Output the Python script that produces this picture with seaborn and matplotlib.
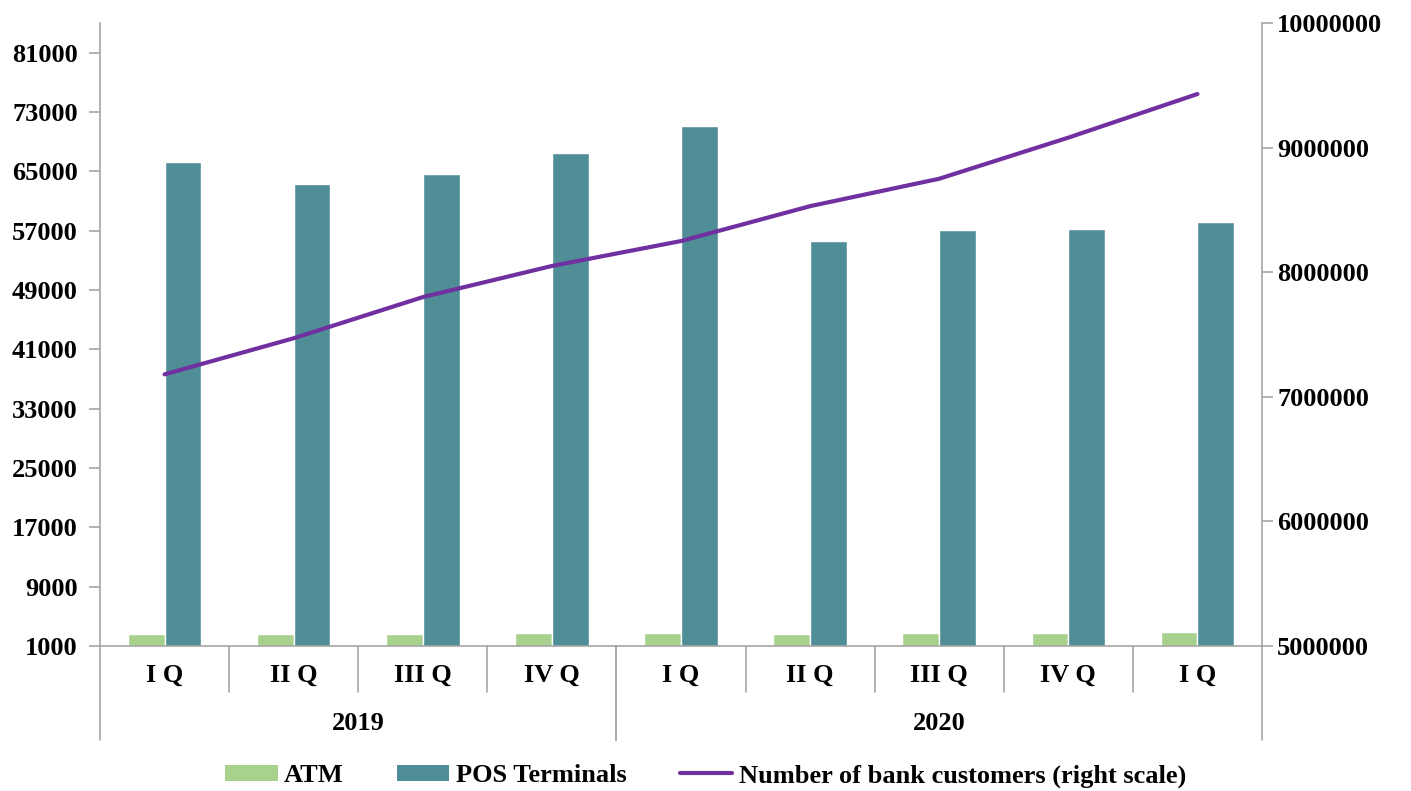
import matplotlib
matplotlib.use("Agg")
import matplotlib.pyplot as plt
from matplotlib.lines import Line2D
from matplotlib.patches import Patch
import seaborn as sns
import pandas as pd
import numpy as np

quarters = ["I Q", "II Q", "III Q", "IV Q", "I Q", "II Q", "III Q", "IV Q", "I Q"]
years = ["2019", "2020"]
year_spans = [(0, 4), (4, 9)]
atm = [2660, 2680, 2680, 2750, 2790, 2660, 2790, 2790, 2890]
pos = [66300, 63300, 64700, 67500, 71100, 55600, 57100, 57200, 58200]
customers = [7180000, 7470000, 7800000, 8050000, 8250000, 8530000, 8750000, 9080000, 9430000]

ATM_COLOR = "#A9D18E"
POS_COLOR = "#4F8E97"
LINE_COLOR = "#7030A0"
GRID_GRAY = "#A6A6A6"

sns.set_style("white")
plt.rcParams["font.family"] = ["Liberation Serif", "DejaVu Serif"]
plt.rcParams["font.weight"] = "bold"
plt.rcParams["text.color"] = "black"
plt.rcParams["xtick.labelcolor"] = "black"
plt.rcParams["ytick.labelcolor"] = "black"

keys = [f"{i}" for i in range(len(quarters))]
df = pd.DataFrame({
    "period": keys * 2,
    "value": atm + pos,
    "series": ["ATM"] * len(keys) + ["POS Terminals"] * len(keys),
})

fig = plt.figure(figsize=(14.11, 7.91), dpi=100)
ax = fig.add_axes([100 / 1411, 1 - 646 / 791, (1262 - 100) / 1411, (646 - 23) / 791])

sns.barplot(data=df, x="period", y="value", hue="series", order=keys,
            hue_order=["ATM", "POS Terminals"],
            palette=[ATM_COLOR, POS_COLOR], width=0.57, saturation=1,
            ax=ax, legend=False)
ax.set_xlim(-0.5, len(keys) - 0.5)
ax.set_ylim(1000, 85000)
ax.set_yticks(np.arange(1000, 81001, 8000))
ax.set_yticklabels([str(v) for v in range(1000, 81001, 8000)], fontsize=19, fontweight="bold")
ax.set_xticks([])
ax.set_xlabel("")
ax.set_ylabel("")
ax.tick_params(axis="y", direction="out", length=8, width=1.2, color=GRID_GRAY,
               labelcolor="black", left=True, pad=8)
for s in ["top", "right"]:
    ax.spines[s].set_visible(False)
for s in ["left", "bottom"]:
    ax.spines[s].set_color(GRID_GRAY)
    ax.spines[s].set_linewidth(1.2)

ax2 = ax.twinx()
sns.lineplot(x=np.arange(len(customers)), y=customers, ax=ax2, color=LINE_COLOR,
             linewidth=3, legend=False)
ax2.set_xlim(-0.5, len(keys) - 0.5)
ax2.set_ylim(5000000, 10000000)
ax2.set_yticks(np.arange(5000000, 10000001, 1000000))
ax2.set_yticklabels([str(v) for v in range(5000000, 10000001, 1000000)], fontsize=19, fontweight="bold")
ax2.tick_params(axis="y", direction="out", length=8, width=1.2, color=GRID_GRAY,
                labelcolor="black", right=True, pad=3)
for s in ["top", "left", "bottom"]:
    ax2.spines[s].set_visible(False)
ax2.spines["right"].set_color(GRID_GRAY)
ax2.spines["right"].set_linewidth(1.2)

# multi-level category axis
tr = ax.get_xaxis_transform()
ah = 646 - 23
q_low = -(692 - 646) / ah
y_low = -(740 - 646) / ah
for i in range(1, len(keys)):
    if any(i == a for a, b in year_spans):
        continue
    ax.add_line(Line2D([i - 0.5, i - 0.5], [0, q_low], transform=tr, color=GRID_GRAY,
                       lw=1.2, clip_on=False))
for a, b in year_spans:
    for xb in (a - 0.5, b - 0.5):
        ax.add_line(Line2D([xb, xb], [0, y_low], transform=tr, color=GRID_GRAY,
                           lw=1.2, clip_on=False))
for i, q in enumerate(quarters):
    ax.text(i, -(675 - 646) / ah, q, transform=tr, ha="center", va="center",
            fontsize=19, fontweight="bold", color="black")
for (a, b), yr in zip(year_spans, years):
    ax.text((a + b - 1) / 2, -(723 - 646) / ah, yr, transform=tr, ha="center", va="center",
            fontsize=19, fontweight="bold", color="black")

handles = [Patch(facecolor=ATM_COLOR, edgecolor="none"),
           Patch(facecolor=POS_COLOR, edgecolor="none"),
           Line2D([], [], color=LINE_COLOR, lw=3)]
labels = ["ATM", "POS Terminals", "Number of bank customers (right scale)"]
fig.legend(handles, labels, loc="center", bbox_to_anchor=(0.5, 1 - 776 / 791), ncol=3,
           frameon=False, prop={"size": 19, "weight": "bold"}, handlelength=2.0,
           handleheight=0.6, handletextpad=0.25, columnspacing=2.0)

fig.savefig("out.png", dpi=100)
